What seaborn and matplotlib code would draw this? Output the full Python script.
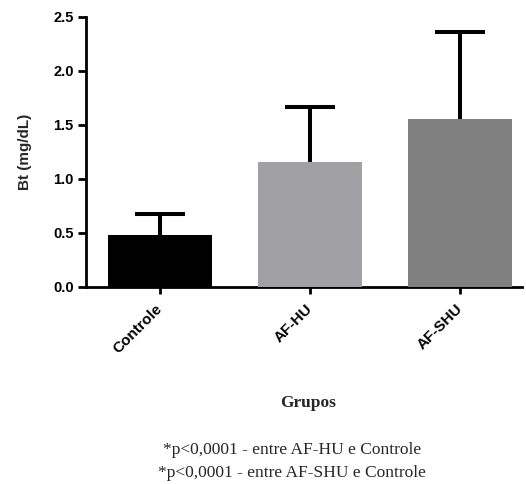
import matplotlib
matplotlib.use("Agg")
import matplotlib.pyplot as plt
import seaborn as sns
import pandas as pd

groups = ["Controle", "AF-HU", "AF-SHU"]
means = [0.48, 1.155, 1.56]
upper_err = [0.195, 0.515, 0.805]
bar_colors = ["#000000", "#a1a0a5", "#808080"]
yticks = [0.0, 0.5, 1.0, 1.5, 2.0, 2.5]
ytick_labels = ["0.0", "0.5", "1.0", "1.5", "2.0", "2.5"]
notes = ["*p<0,0001 - entre AF-HU e Controle", "*p<0,0001 - entre AF-SHU e Controle"]

sns.set_theme(style="ticks")
plt.rcParams["font.family"] = ["Liberation Sans", "DejaVu Sans"]

fig = plt.figure(figsize=(5.26, 4.84), dpi=100)
ax = fig.add_axes([86 / 526, 1 - 287 / 484, (522 - 86) / 526, (287 - 17) / 484])

df = pd.DataFrame({"Grupo": groups, "Bt": means})
sns.barplot(data=df, x="Grupo", y="Bt", hue="Grupo", palette=bar_colors,
            width=0.69, saturation=1, legend=False, ax=ax, zorder=3, linewidth=0)
eb = ax.errorbar(range(len(groups)), means, yerr=[[0] * len(groups), upper_err],
                 fmt="none", ecolor="black", elinewidth=2.9, capsize=18, capthick=2.9, zorder=2)
# keep only the upper caps
caps = eb[1]
if len(caps) == 2:
    caps[0].set_visible(False)

ax.set_xlim(-0.493, 2.413)
ax.set_ylim(0, 2.5)
ax.set_yticks(yticks)
ax.set_yticklabels(ytick_labels, fontsize=10.5, fontweight="bold")
ax.set_xticks(range(len(groups)))
ax.set_xticklabels(groups, rotation=45, ha="right", va="center", rotation_mode="anchor",
                   fontsize=11, fontweight="bold")
ax.tick_params(axis="y", length=6, width=2, pad=3, colors="black")
ax.tick_params(axis="x", length=5, width=2, pad=9, colors="black")
for s in ["left", "bottom"]:
    ax.spines[s].set_linewidth(2)
    ax.spines[s].set_color("black")
sns.despine(ax=ax)

ax.set_ylabel("Bt (mg/dL)", fontsize=11, fontweight="bold", labelpad=15)
ax.set_xlabel("")

fig.text(308 / 526, 1 - 403 / 484, "Grupos", ha="center", va="center",
         fontsize=12.5, fontweight="bold", family=["Liberation Serif", "DejaVu Serif"])
fig.text(292 / 526, 1 - 450 / 484, notes[0], ha="center", va="center",
         fontsize=12.5, family=["Liberation Serif", "DejaVu Serif"])
fig.text(292 / 526, 1 - 473 / 484, notes[1], ha="center", va="center",
         fontsize=12.5, family=["Liberation Serif", "DejaVu Serif"])

fig.savefig("out.png", dpi=100, facecolor="white")
